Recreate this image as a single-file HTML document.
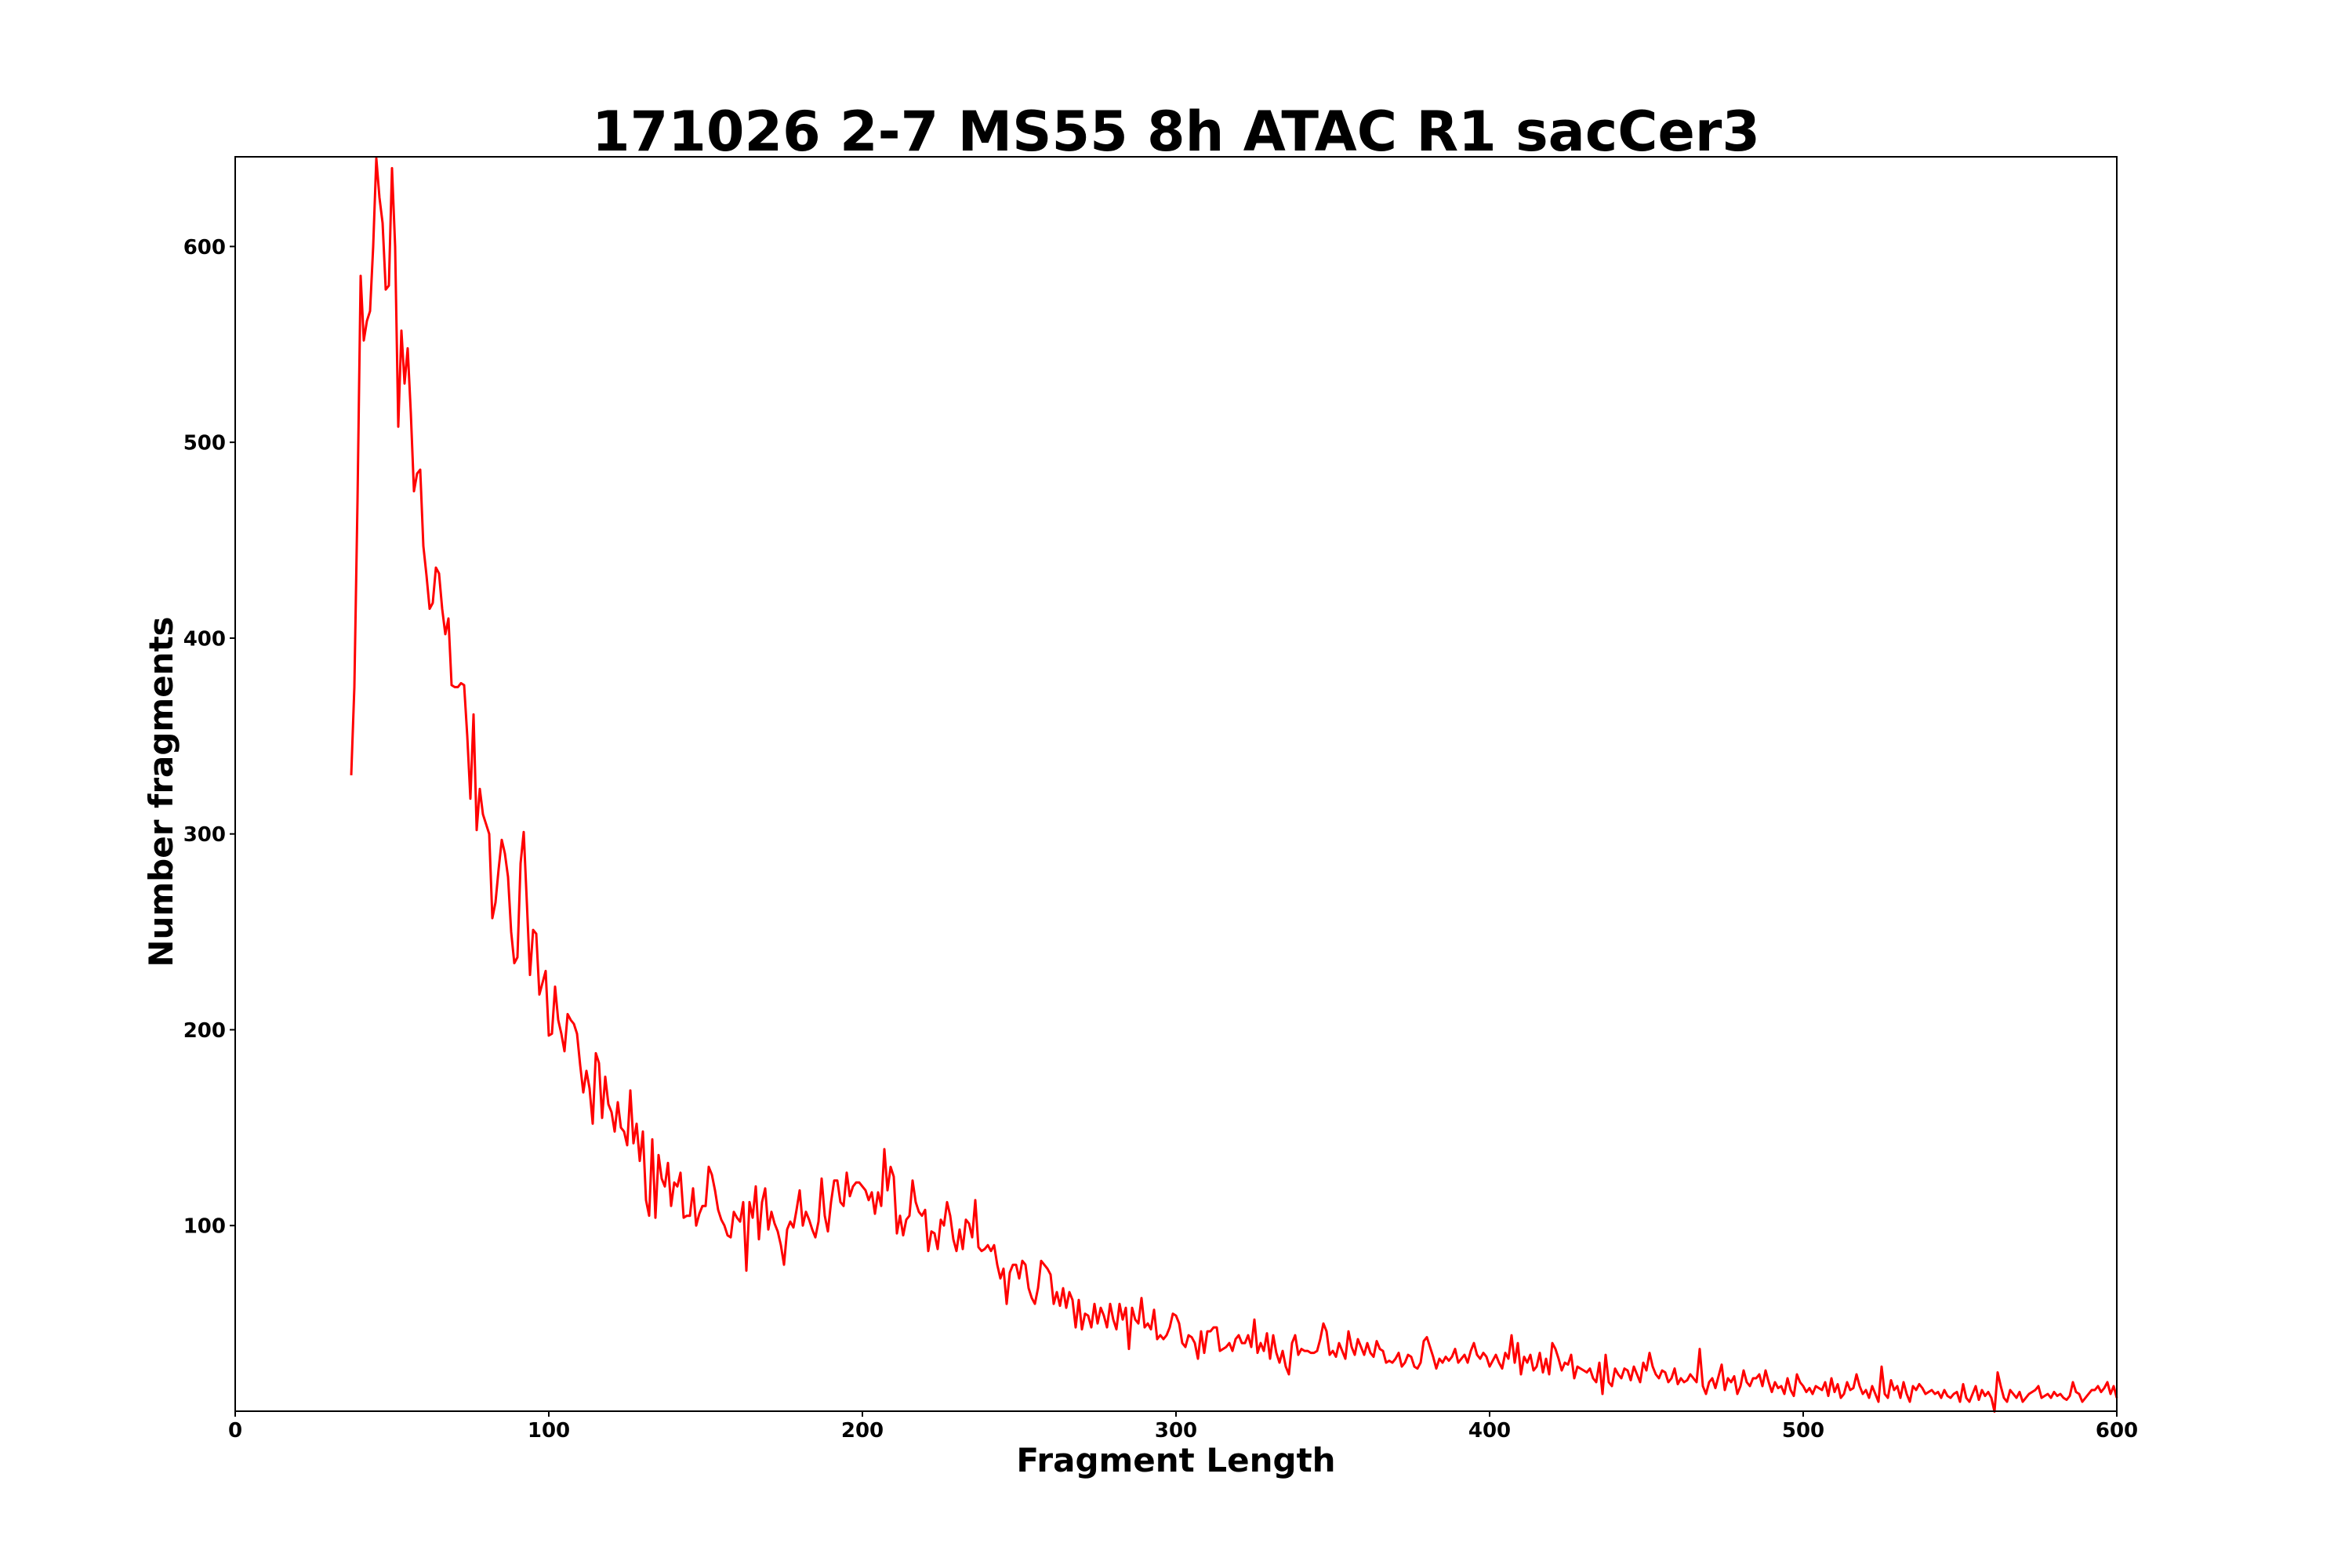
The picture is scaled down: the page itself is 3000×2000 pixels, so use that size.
<!DOCTYPE html>
<html><head><meta charset="utf-8"><style>
html,body{margin:0;padding:0;background:#fff;}
svg{display:block;}
text{font-family:"DejaVu Sans","Liberation Sans",sans-serif;font-weight:bold;fill:#000;}
</style></head><body>
<svg id="chart" width="3000" height="2000" viewBox="0 0 3000 2000" xmlns="http://www.w3.org/2000/svg">
<rect x="0" y="0" width="3000" height="2000" fill="#fff"/>
<text x="1500" y="192" text-anchor="middle" font-size="70" textLength="1490" lengthAdjust="spacingAndGlyphs">171026 2-7 MS55 8h ATAC R1 sacCer3</text>
<text x="1500" y="1877" text-anchor="middle" font-size="42">Fragment Length</text>
<text x="0" y="0" text-anchor="middle" font-size="42" transform="translate(220,1010) rotate(-90)">Number fragments</text>
<g id="ticks"></g>
<path id="series" fill="none" stroke="#ff0000" stroke-width="3" stroke-linejoin="round"/>
<rect x="300" y="200" width="2400" height="1600" fill="none" stroke="#000" stroke-width="2"/>
</svg>
<script>
const lengthStart = 37;
const xTicks = [0,100,200,300,400,500,600];
const yTicks = [100,200,300,400,500,600];
const countsA = [330,375,470,585,552,562,567,600,645,625,612,578,580,640,600,508,557,530,548,515,475,484,486,447,432,415,418,436,433,415,402,410,376,375,375,377,376,350,318,361,302,323,310,305,300,257,265,282,297,290,278,250,234,237,285,301,265,228,251,249,218,224,230,197,198,222,205,198,189,208,205,203,198,182,168,179,170,152,188,183,155,176,162,158,148,163,150,148,141,169,142,152,133,148,113,105,144,104,136,124,120,132,110,122,120,127,104,105,105,119,100,106,110,110,130,126,118,108,103,100,95,94,107,104,102,112,77,112,104,120,93,112,119,98,107,101,97,90,80,98,102,99,108,118,100,107,103,98,94,102,124,105,97,112,123,123,112,110,127,115,120,122,122,120,118,113,117,106,117,110,139,118,130,125,96,105,95,103,105,123,112,107,105,108,87,97,96,88,103,100,112,105,93,87,98,88,103,101,94,113,89,87,88,90,87,90,80,73,78,60,76,80,80,73,82,80,68,63,60,68,82,80,78,75,60,66,59,68,58,66,62,48,62,47,55,54,48,60,50,58,54,48,60,52,47,60,52,58,37,58,52,50,63,48,50,47,57,42,44,42,44,48,55,54,50,40,38,44,43,40,32,46,35,46,46,48,48,36,37,38,40,36,42,44,40,40,44,38,52,35,40,36,45,32,44,35,30,36,28,24,40,44,34,37,36,36,35,35,36,42,50,46,34,36];
const countsB = [33,40,36,32,46,38,34,42,38,34,40,35,33,41,37,36,30,31,30,32,35,28,30,34,33,28,27,30,41,43,38,33,27,32,30,33,31,33,37,30,32,34,30,36,40,34,32,35,33,28,31,34,30,27,35,32,44,30,40,24,33,30,34,26,28,35,25,32,24,40,37,32,26,30,29,34,22,28,27,26,25,27,22,20,30,14,34,20,18,27,24,22,27,26,21,28,24,20,30,26,35,28,24,22,26,25,20,22,27,19,22,20,21,24,22,20,37,18,14,20,22,17,23,29,16,22,20,23,14,18,26,20,18,22,22,24,18,26,20,15,20,17,18,14,22,16,13,24,20,18,15,17,14,18,17,16,20,13,22,15,19,12,14,20,16,17,24,18,14,16,12,18,14,10,28,14,12,21,16,18,12,20,14,10,18,16,19,17,14,15,16,14,15,12,16,13,12,14,15,10,19,12,10,14,18,11,16,13,15,12,5,25,18,12,10,16,14,12,15,10,12,14,15,16,18,12,13,14,12,15,13,14,12,11,13,20,15,14,10,12,14,16,16,18,15,17,20,14,18,12];
const counts = countsA.concat(countsB);

const X0=300,X1=2700,Y0=1800,Y1=200, XMIN=0,XMAX=600, YMIN=5.2,YMAX=645.8;
function xs(v){return X0+(v-XMIN)/(XMAX-XMIN)*(X1-X0);}
function ys(v){return Y0-(v-YMIN)/(YMAX-YMIN)*(Y0-Y1);}
const NS="http://www.w3.org/2000/svg";
const g=document.getElementById('ticks');
xTicks.forEach(t=>{
  const l=document.createElementNS(NS,'line');
  l.setAttribute('x1',xs(t));l.setAttribute('x2',xs(t));l.setAttribute('y1',Y0);l.setAttribute('y2',Y0+7);
  l.setAttribute('stroke','#000');l.setAttribute('stroke-width','2');
  
  
  g.appendChild(l);
  const tx=document.createElementNS(NS,'text');
  tx.setAttribute('x',xs(t));tx.setAttribute('y',1833);tx.setAttribute('text-anchor','middle');tx.setAttribute('font-size','26');
  tx.textContent=t;
  
  
  g.appendChild(tx);
});
yTicks.forEach(t=>{
  const l=document.createElementNS(NS,'line');
  l.setAttribute('x1',X0-7);l.setAttribute('x2',X0);l.setAttribute('y1',ys(t));l.setAttribute('y2',ys(t));
  l.setAttribute('stroke','#000');l.setAttribute('stroke-width','2');
  
  
  g.appendChild(l);
  const tx=document.createElementNS(NS,'text');
  tx.setAttribute('x',288);tx.setAttribute('y',ys(t)+9.5);tx.setAttribute('text-anchor','end');tx.setAttribute('font-size','26');
  tx.textContent=t;
  
  
  g.appendChild(tx);
});
let d='';
counts.forEach((c,i)=>{d+=(i?'L':'M')+xs(lengthStart+i).toFixed(1)+','+ys(c).toFixed(1);});
document.getElementById('series').setAttribute('d',d);
</script>
</body></html>
